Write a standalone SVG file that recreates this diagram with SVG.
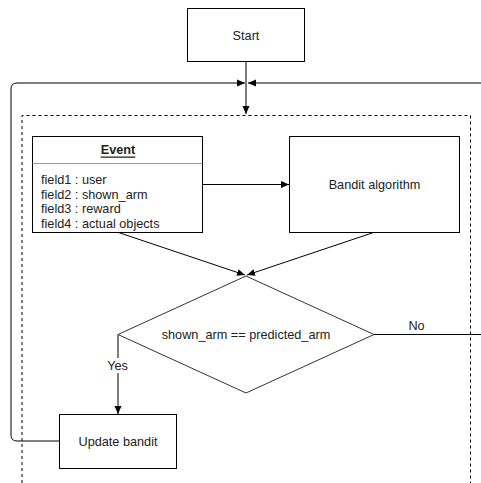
<svg xmlns="http://www.w3.org/2000/svg" width="481" height="483" viewBox="0 0 481 483">
  <defs>
    <marker id="arrow" viewBox="0 0 8 8" refX="8" refY="4" markerWidth="8" markerHeight="8" markerUnits="userSpaceOnUse" orient="auto">
      <path d="M0,0.5 L8,4 L0,7.5 Z" fill="#000"/>
    </marker>
  </defs>
  <style>
    .box { fill: #fff; stroke: #000; stroke-width: 1; }
    .shape { fill: #fff; stroke: #333; stroke-width: 1; }
    .edge { fill: none; stroke: #000; stroke-width: 1; }
    .dash { fill: none; stroke: #000; stroke-width: 1; stroke-dasharray: 3 3; }
    text { font-family: "Liberation Sans", Arial, sans-serif; font-size: 12.7px; fill: #222; }
    .c { text-anchor: middle; dominant-baseline: central; }
  </style>

  <rect width="481" height="483" fill="#fff"/>

  <!-- loop container -->
  <path class="dash" d="M22,483 L22,115.5 L470.5,115.5 L470.5,483"/>

  <g id="connectors">
    <!-- start to loop -->
    <path class="edge" d="M246,62 L246,114" marker-end="url(#arrow)"/>
    <!-- feedback from update -->
    <path class="edge" d="M59,441 L17,441 Q11,441 11,435 L11,89 Q11,83 17,83 L245,83" marker-end="url(#arrow)"/>
    <!-- feedback from right -->
    <path class="edge" d="M481,83 L248,83" marker-end="url(#arrow)"/>
    <!-- event to bandit -->
    <path class="edge" d="M203,184.5 L289,184.5" marker-end="url(#arrow)"/>
    <!-- event to decision -->
    <path class="edge" d="M118.5,232.5 L245,275" marker-end="url(#arrow)"/>
    <!-- bandit to decision -->
    <path class="edge" d="M373.5,232.5 L247,275" marker-end="url(#arrow)"/>
    <!-- no branch -->
    <path class="edge" d="M374,334.5 L481,334.5"/>
    <text x="416.5" y="325.5" class="c">No</text>
    <!-- yes branch -->
    <path class="edge" d="M118,334.5 L118,414" marker-end="url(#arrow)"/>
    <rect x="104" y="358" width="28" height="15" fill="#fff"/>
    <text x="117.5" y="366" class="c">Yes</text>
  </g>

  <g id="start">
    <rect class="box" x="187.5" y="8.5" width="117" height="53"/>
    <text x="246" y="35.5" class="c">Start</text>
  </g>

  <g id="event">
    <rect class="box" x="32.5" y="136.5" width="170" height="96"/>
    <line x1="32.5" y1="163.5" x2="202.5" y2="163.5" stroke="#999" stroke-width="1"/>
    <text x="118" y="149.5" class="c" font-weight="bold" text-decoration="underline">Event</text>
    <text x="41" y="179.5" dominant-baseline="central">field1 : user</text>
    <text x="41" y="194.5" dominant-baseline="central">field2 : shown_arm</text>
    <text x="41" y="209" dominant-baseline="central">field3 : reward</text>
    <text x="41" y="224" dominant-baseline="central">field4 : actual objects</text>
  </g>

  <g id="bandit">
    <rect class="box" x="289.5" y="136.5" width="170" height="96"/>
    <text x="374.5" y="185" class="c">Bandit algorithm</text>
  </g>

  <g id="decision">
    <polygon class="shape" points="246,276 374,334.5 246,393 118,334.5"/>
    <text x="246" y="335" class="c">shown_arm == predicted_arm</text>
  </g>

  <g id="update">
    <rect class="box" x="59.5" y="414.5" width="117" height="54"/>
    <text x="118" y="441.5" class="c">Update bandit</text>
  </g>
</svg>
